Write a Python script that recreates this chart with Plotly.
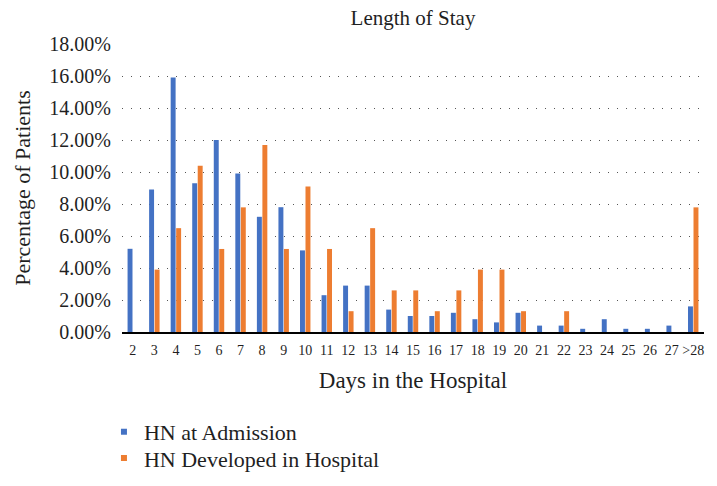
import plotly.graph_objects as go

days = [str(d) for d in range(2, 28)] + [">28"]
hn_admission = [5.2, 8.9, 15.9, 9.3, 12.0, 9.9, 7.2, 7.8, 5.1, 2.3, 2.9, 2.9, 1.4, 1.0,
                1.0, 1.2, 0.8, 0.6, 1.2, 0.4, 0.4, 0.2, 0.8, 0.2, 0.2, 0.4, 1.6]
hn_developed = [0.0, 3.9, 6.49, 10.39, 5.19, 7.79, 11.69, 5.19, 9.09, 5.19, 1.3, 6.49, 2.6, 2.6,
                1.3, 2.6, 3.9, 3.9, 1.3, 0.0, 1.3, 0.0, 0.0, 0.0, 0.0, 0.0, 7.79]
series_names = ["HN at Admission", "HN Developed in Hospital"]
colors = ["#4472C4", "#ED7D31"]

FONT = "Liberation Serif"
TXT = "#1f1f1f"

fig = go.Figure()
for name, vals, col in zip(series_names, [hn_admission, hn_developed], colors):
    fig.add_trace(go.Bar(x=days, y=vals, name=name, marker_color=col,
                         marker_line_width=0, showlegend=False))
# legend entries with small square markers (one legend box per series)
for name, col, lg in zip(series_names, colors, ["legend", "legend2"]):
    fig.add_trace(go.Scatter(x=[None], y=[None], mode="markers", name=name, legend=lg,
                             marker=dict(symbol="square", size=6, color=col)))

legend_common = dict(x=-0.031, xanchor="left", yanchor="middle",
                     font=dict(family=FONT, size=22, color=TXT),
                     bgcolor="rgba(0,0,0,0)", itemsizing="trace")

fig.update_layout(
    width=717, height=486,
    margin=dict(l=122, r=13, t=44, b=154, autoexpand=False),
    paper_bgcolor="white", plot_bgcolor="white",
    font=dict(family=FONT, color=TXT),
    bargap=0.49, bargroupgap=0.1, barmode="group",
    title=dict(text="Length of Stay", x=0.576, xanchor="center", y=0.963, yanchor="middle",
               font=dict(family=FONT, size=21, color=TXT)),
    legend=dict(y=-0.347, **legend_common),
    legend2=dict(y=-0.438, **legend_common),
    showlegend=True,
)
fig.update_xaxes(
    type="category", showgrid=False, showline=True, linecolor="#000000", linewidth=1.5,
    ticks="outside", ticklen=4, tickcolor="rgba(0,0,0,0)",
    tickfont=dict(family=FONT, size=14, color=TXT),
    automargin=True,
    title=dict(text="Days in the Hospital", standoff=15,
               font=dict(family=FONT, size=23, color=TXT)),
)
fig.update_yaxes(
    range=[0, 18], dtick=2, tickformat=".2f", ticksuffix="%",
    showgrid=True, gridcolor="#555555", gridwidth=1, griddash="1px,8px",
    zeroline=False, showline=False,
    ticks="outside", ticklen=6, tickcolor="rgba(0,0,0,0)",
    tickfont=dict(family=FONT, size=20, color=TXT),
    automargin=True,
    title=dict(text="Percentage of Patients", standoff=12,
               font=dict(family=FONT, size=22, color=TXT)),
)

fig.write_html("out.html", config={"displayModeBar": False},
               post_script="document.body.style.margin='0';")
